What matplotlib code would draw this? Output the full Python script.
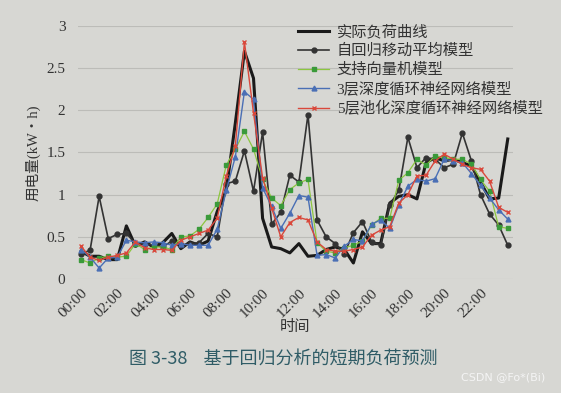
import matplotlib.pyplot as plt

plt.rcParams['font.family'] = ['Liberation Serif', 'Noto Sans CJK SC']

# half-hourly points, 00:00 .. 23:30
times = ['%02d:%02d' % (h, m) for h in range(24) for m in (0, 30)]
tick_labels = ['%02d:00' % h for h in range(0, 24, 2)]

actual = [0.33, 0.27, 0.27, 0.23, 0.23, 0.63, 0.39, 0.44, 0.38, 0.43, 0.54, 0.36,
          0.44, 0.40, 0.45, 0.80, 1.05, 1.85, 2.70, 2.38, 0.72, 0.38, 0.36, 0.31,
          0.42, 0.27, 0.28, 0.35, 0.38, 0.35, 0.19, 0.56, 0.42, 0.42, 0.90, 0.98,
          1.00, 0.95, 1.38, 1.44, 1.40, 1.42, 1.38, 1.34, 1.15, 0.95, 0.96, 1.66]
arima = [0.30, 0.34, 0.98, 0.48, 0.53, 0.54, 0.42, 0.42, 0.40, 0.38, 0.45, 0.40,
         0.42, 0.43, 0.54, 0.50, 1.13, 1.16, 1.52, 1.04, 1.74, 0.65, 0.79, 1.23,
         1.15, 1.95, 0.70, 0.50, 0.42, 0.30, 0.55, 0.68, 0.44, 0.40, 0.88, 1.05,
         1.68, 1.32, 1.44, 1.42, 1.32, 1.36, 1.73, 1.40, 1.00, 0.77, 0.64, 0.40]
svm = [0.23, 0.19, 0.25, 0.27, 0.26, 0.27, 0.42, 0.35, 0.38, 0.38, 0.35, 0.50,
       0.51, 0.59, 0.73, 0.89, 1.35, 1.54, 1.75, 1.54, 1.18, 0.96, 0.87, 1.06,
       1.14, 1.18, 0.43, 0.33, 0.31, 0.37, 0.40, 0.45, 0.64, 0.72, 0.72, 1.17,
       1.26, 1.42, 1.35, 1.46, 1.44, 1.42, 1.42, 1.36, 1.18, 1.04, 0.62, 0.60]
rnn3 = [0.35, 0.26, 0.13, 0.25, 0.26, 0.46, 0.44, 0.43, 0.44, 0.43, 0.40, 0.42,
        0.40, 0.40, 0.40, 0.59, 1.05, 1.45, 2.22, 2.13, 1.08, 0.86, 0.60, 0.78,
        0.99, 0.97, 0.28, 0.29, 0.25, 0.39, 0.47, 0.45, 0.65, 0.70, 0.60, 0.88,
        1.10, 1.18, 1.16, 1.19, 1.42, 1.40, 1.38, 1.25, 1.11, 0.96, 0.82, 0.71]
rnn5 = [0.39, 0.26, 0.22, 0.26, 0.28, 0.31, 0.44, 0.37, 0.35, 0.35, 0.34, 0.46,
        0.50, 0.54, 0.58, 0.72, 1.22, 1.58, 2.81, 1.97, 1.20, 0.84, 0.50, 0.67,
        0.73, 0.70, 0.44, 0.35, 0.33, 0.33, 0.35, 0.38, 0.52, 0.58, 0.62, 0.90,
        1.00, 1.22, 1.23, 1.40, 1.48, 1.42, 1.36, 1.32, 1.30, 1.16, 0.85, 0.79]

names = ['实际负荷曲线', '自回归移动平均模型', '支持向量机模型',
         '3层深度循环神经网络模型', '5层池化深度循环神经网络模型']

bg = '#d7d7d3'
fig = plt.figure(figsize=(5.61, 3.93), dpi=100, facecolor=bg)
ax = fig.add_axes([0.139, 0.290, 0.775, 0.644], facecolor=bg)

x = list(range(len(times)))
ax.plot(x, actual, color='#1a1a1a', lw=2.2, label=names[0], zorder=3)
ax.plot(x, arima, color='#333333', lw=1.2, marker='o', ms=3.5, label=names[1], zorder=4)
ax.plot(x, svm, color='#8cc63f', lw=0.9, marker='s', ms=3.5, mfc='#3a9a3a',
        mec='#3a9a3a', label=names[2], zorder=4)
ax.plot(x, rnn3, color='#4a6fb5', lw=1.0, marker='^', ms=3.5, label=names[3], zorder=4)
ax.plot(x, rnn5, color='#d9483b', lw=1.0, marker='x', ms=3.5, mew=1.0,
        label=names[4], zorder=5)

ax.set_xlim(-0.33, 47.55)
ax.set_ylim(0, 3)
ax.set_yticks([0, 0.5, 1, 1.5, 2, 2.5, 3])
ax.set_yticklabels(['0', '0.5', '1', '1.5', '2', '2.5', '3'], fontsize=11, color='#333333')
ax.set_xticks(range(0, 48, 4))
ax.set_xticklabels(tick_labels, rotation=45, ha='right', rotation_mode='anchor',
                   fontsize=11, color='#333333')
ax.tick_params(axis='y', length=0, pad=9)
ax.tick_params(axis='x', length=0, pad=5)
ax.grid(axis='y', color='#bcbcb8', lw=0.8)
ax.set_axisbelow(True)
for s in ax.spines.values():
    s.set_visible(False)

ax.set_ylabel('用电量(kW・h)', fontsize=10.5, color='#333333', labelpad=4)
ax.set_xlabel('时间', fontsize=11, color='#333333', labelpad=0)

leg = ax.legend(loc='upper right', bbox_to_anchor=(1.1, 1.06), frameon=False,
                fontsize=11, handlelength=2.0, labelspacing=0.3, handletextpad=0.5)
for t in leg.get_texts():
    t.set_color('#333333')

fig.text(0.505, 0.088, '图 3-38    基于回归分析的短期负荷预测', ha='center', va='center',
         fontsize=13, color='#2f5c66', family=['Noto Sans CJK SC'])
fig.text(0.972, 0.04, 'CSDN @Fo*(Bi)', ha='right', va='center', fontsize=8,
         color='#f4f4f4', family=['DejaVu Sans'])

fig.savefig('out.png', dpi=100, facecolor=bg)
